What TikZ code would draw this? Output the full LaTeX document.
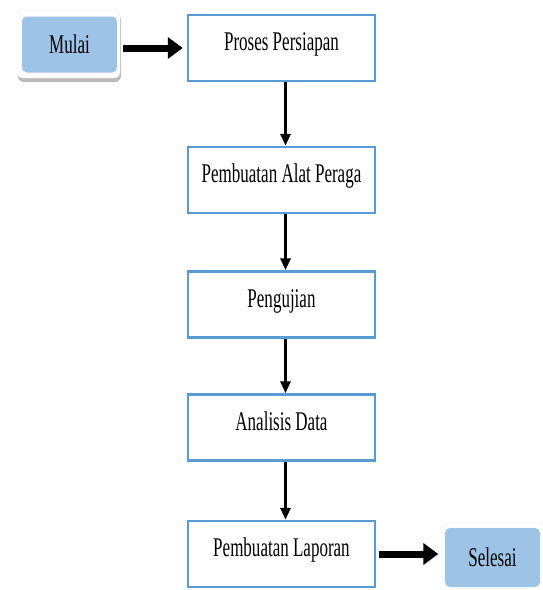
\documentclass[tikz,border=0pt]{standalone}
\usepackage{fontspec}
\setmainfont[FakeStretch=0.63]{Liberation Serif}
\usetikzlibrary{arrows.meta,shadows}
\definecolor{boxblue}{RGB}{91,155,213}
\definecolor{endblue}{RGB}{157,195,230}
\begin{document}
\begin{tikzpicture}[x=1pt,y=-1pt]
        \tikzstyle{stage}=[rectangle,draw=boxblue,line width=2.5pt,fill=white,minimum width=187pt,minimum height=66pt,text height=18pt,text depth=13pt,font=\fontsize{27}{30}\selectfont]
        \tikzstyle{frame}=[rectangle,rounded corners=6pt,fill=white,draw=black!8,minimum width=103pt,minimum height=68pt,drop shadow={shadow xshift=1pt,shadow yshift=-4pt,opacity=0.45,fill=black!60}]
        \tikzstyle{terminal}=[rectangle,rounded corners=5pt,fill=endblue,minimum width=95pt,minimum height=56pt,text height=18pt,text depth=0pt,font=\fontsize{27}{30}\selectfont]
        \tikzstyle{edge}=[draw,line width=3pt,-{Triangle[length=12pt,width=10pt]}]
        \tikzstyle{bigedge}=[draw,line width=7pt,-{Triangle[length=15pt,width=21pt]}]
        \useasboundingbox (0,0) rectangle (543,590);
        \begin{scope}
           \node [frame] (mulaibg) at (68.5,44) {};
           \node [terminal] (mulai) at (69.5,44.5) {Mulai};
           \node [stage] (persiapan) at (281.5,48) {Proses Persiapan};
           \node [stage] (alat) at (281.5,180) {Pembuatan Alat Peraga};
           \node [stage] (uji) at (281.5,304.5) {Pengujian};
           \node [stage] (analisis) at (281.5,427.5) {Analisis Data};
           \node [stage] (laporan) at (281.5,554) {Pembuatan Laporan};
           \node [frame,minimum height=72pt] (selesaibg) at (494,559) {};
           \node [terminal,minimum height=59pt] (selesai) at (492.5,557.5) {Selesai};
           \path[bigedge] ([xshift=3pt]mulaibg.east |- persiapan.west) -- ([xshift=-4pt]persiapan.west);
           \path[edge] ([xshift=4pt]persiapan.south) -- ([xshift=4pt]alat.north);
           \path[edge] ([xshift=4pt]alat.south) -- ([xshift=4pt]uji.north);
           \path[edge] ([xshift=4pt]uji.south) -- ([xshift=4pt]analisis.north);
           \path[edge] ([xshift=4pt]analisis.south) -- ([xshift=4pt]laporan.north);
           \path[bigedge] ([xshift=3pt]laporan.east) -- ([xshift=-4pt]selesaibg.west |- laporan.east);
        \end{scope}
      \end{tikzpicture}
\end{document}
